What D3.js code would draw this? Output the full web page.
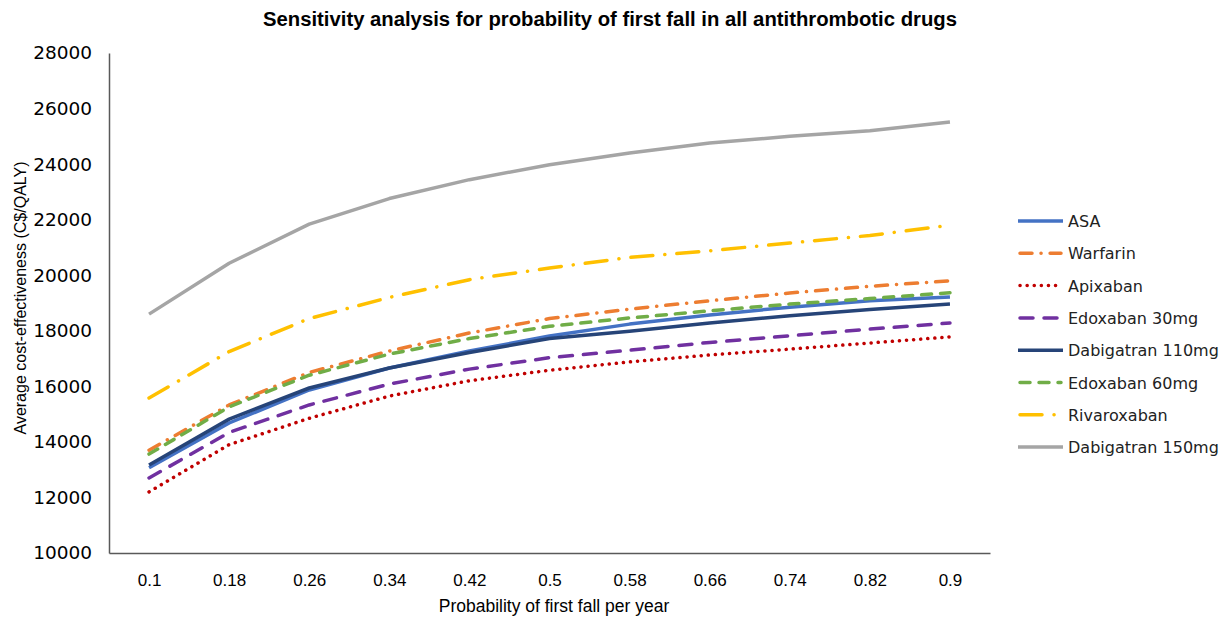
<!DOCTYPE html>
<html>
<head>
<meta charset="utf-8">
<script src="https://cdn.jsdelivr.net/npm/d3@7"></script>
<style>
  body { margin: 0; background: #fff; }
  svg { display: block; }
</style>
</head>
<body>
<div class="svg-container"></div>
<script>
// Data
var probabilities = ["0.1", "0.18", "0.26", "0.34", "0.42", "0.5", "0.58", "0.66", "0.74", "0.82", "0.9"];
var yTicks = [10000, 12000, 14000, 16000, 18000, 20000, 22000, 24000, 26000, 28000];

var asa          = [13070, 14680, 15870, 16660, 17270, 17810, 18240, 18570, 18850, 19080, 19220];
var warfarin     = [13700, 15330, 16500, 17270, 17920, 18440, 18780, 19080, 19360, 19600, 19800];
var apixaban     = [12200, 13900, 14850, 15650, 16200, 16580, 16880, 17130, 17340, 17560, 17780];
var edoxaban30   = [12700, 14340, 15330, 16080, 16620, 17030, 17300, 17580, 17820, 18060, 18280];
var dabigatran110 = [13170, 14820, 15940, 16660, 17220, 17720, 17980, 18280, 18540, 18770, 18960];
var edoxaban60   = [13560, 15260, 16400, 17160, 17720, 18160, 18460, 18720, 18960, 19160, 19370];
var rivaroxaban  = [15580, 17250, 18440, 19200, 19840, 20260, 20640, 20880, 21160, 21430, 21800];
var dabigatran150 = [18600, 20430, 21840, 22760, 23440, 23980, 24400, 24760, 25000, 25200, 25520];

var seriesNames = ["ASA", "Warfarin", "Apixaban", "Edoxaban 30mg", "Dabigatran 110mg", "Edoxaban 60mg", "Rivaroxaban", "Dabigatran 150mg"];
var seriesValues = [asa, warfarin, apixaban, edoxaban30, dabigatran110, edoxaban60, rivaroxaban, dabigatran150];

// styles per series
var colors = ["#4472C4", "#ED7D31", "#C00000", "#7030A0", "#264478", "#70AD47", "#FFC000", "#A5A5A5"];
var dashes = [null, "12 9 0.1 9", "0.1 7", "13 11", null, "10 9", "22 12 0.1 12", null];
var caps = ["butt", "round", "round", "round", "butt", "round", "round", "butt"];

var W = 1232, H = 621;
var margin = {top: 53, left: 109, right: 242, bottom: 68};
var width = W - margin.left - margin.right,
    height = H - margin.top - margin.bottom;

var svg = d3.select(".svg-container").append("svg")
    .attr("width", W)
    .attr("height", H);

var g = svg.append("g")
    .attr("transform", "translate(" + margin.left + "," + margin.top + ")");

var xScale = d3.scalePoint().domain(probabilities).range([0, width]).padding(0.5);
var yScale = d3.scaleLinear().domain([10000, 28000]).range([height, 0]);

// Title
svg.append("text")
    .attr("x", 610)
    .attr("y", 26)
    .attr("text-anchor", "middle")
    .attr("textLength", 694)
    .attr("lengthAdjust", "spacingAndGlyphs")
    .style("font-family", "'Liberation Sans', Arial, sans-serif")
    .style("font-weight", "bold")
    .style("font-size", "20px")
    .style("fill", "#000")
    .text("Sensitivity  analysis for probability  of first fall in all antithrombotic drugs");

// Axes
var yaxis = d3.axisLeft(yScale).tickValues(yTicks).tickSize(0).tickPadding(17).tickFormat(d3.format("d"));
var xaxis = d3.axisBottom(xScale).tickSize(0).tickPadding(21);

var gy = g.append("g").call(yaxis);
gy.select(".domain").attr("stroke", "#595959").attr("stroke-width", 1.5);
gy.selectAll("text")
    .style("font-family", "'DejaVu Sans', sans-serif")
    .style("font-size", "18.5px")
    .style("fill", "#000");

var gx = g.append("g").attr("transform", "translate(0," + height + ")").call(xaxis);
gx.select(".domain").attr("stroke", "#595959").attr("stroke-width", 1.5);
gx.selectAll("text")
    .style("font-family", "'Liberation Sans', Arial, sans-serif")
    .style("font-size", "17px")
    .style("fill", "#000");

// Axis titles
svg.append("text")
    .attr("x", 554)
    .attr("y", 612)
    .attr("text-anchor", "middle")
    .style("font-family", "'Liberation Sans', Arial, sans-serif")
    .style("font-size", "17.5px")
    .style("fill", "#000")
    .text("Probability of first fall per year");

svg.append("text")
    .attr("transform", "translate(26,298) rotate(-90)")
    .attr("text-anchor", "middle")
    .style("font-family", "'Liberation Sans', Arial, sans-serif")
    .style("font-size", "16px")
    .style("fill", "#000")
    .text("Average cost-effectiveness (C$/QALY)");

// Lines
var line = d3.line()
    .x(function(d, i) { return xScale(probabilities[i]); })
    .y(function(d) { return yScale(d); });

for (let i = 0; i < seriesValues.length; i++) {
    g.append("path")
        .datum(seriesValues[i])
        .attr("fill", "none")
        .attr("stroke", colors[i])
        .attr("stroke-width", 3.5)
        .attr("stroke-linecap", caps[i])
        .attr("stroke-linejoin", "round")
        .attr("stroke-dasharray", dashes[i])
        .attr("d", line);
}

// Legend
var legend = svg.append("g").attr("transform", "translate(1018,221)");
for (let i = 0; i < seriesNames.length; i++) {
    var row = legend.append("g").attr("transform", "translate(0," + (i * 32.3) + ")");
    row.append("line")
        .attr("x1", caps[i] == "round" ? 2 : 0).attr("x2", caps[i] == "round" ? 43 : 45)
        .attr("y1", 0).attr("y2", 0)
        .attr("stroke", colors[i])
        .attr("stroke-width", 3.5)
        .attr("stroke-linecap", caps[i])
        .attr("stroke-dasharray", dashes[i]);
    row.append("text")
        .attr("x", 50)
        .attr("y", 6)
        .style("font-family", "'DejaVu Sans', sans-serif")
        .style("font-size", "16px")
        .style("fill", "#222")
        .text(seriesNames[i]);
}
</script>
</body>
</html>
